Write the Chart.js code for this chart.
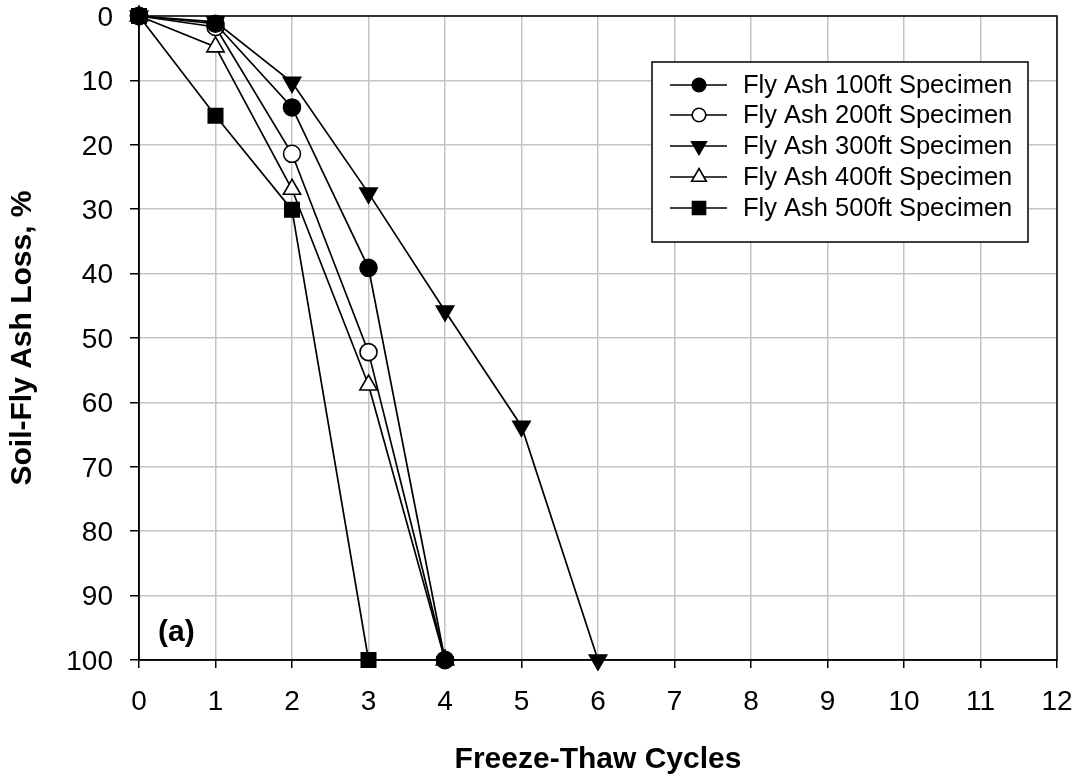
<!DOCTYPE html>
<html><head><meta charset="utf-8">
<script src="https://cdn.jsdelivr.net/npm/chart.js@4.4.0/dist/chart.umd.min.js"></script>
<style>html,body{margin:0;padding:0;background:#fff}#wrap{width:1079px;height:780px}</style>
</head><body><div id="wrap"><canvas id="c" width="1079" height="780"></canvas></div>
<script>
const cycles = [0,1,2,3,4,5,6];
const s100 = [0,1.2,14.2,39.1,100];
const s200 = [0,1.7,21.4,52.2,100];
const s300 = [0,0.9,10.3,27.5,45.8,63.7,100];
const s400 = [0,4.8,26.9,57.3,100];
const s500 = [0,15.5,30.1,100];
const seriesNames = ['Fly Ash 100ft Specimen','Fly Ash 200ft Specimen','Fly Ash 300ft Specimen','Fly Ash 400ft Specimen','Fly Ash 500ft Specimen'];
const xTicks = [0,1,2,3,4,5,6,7,8,9,10,11,12];
const yTicks = [0,10,20,30,40,50,60,70,80,90,100];

const FONT = "'Liberation Sans', Arial, sans-serif";
function mk(vals){ return vals.map((v,i)=>({x:cycles[i], y:v})); }
const styles = [
  {pointStyle:'circle', fill:'#000', r:8.5, lr:6.8},
  {pointStyle:'circle', fill:'#fff', r:8.5, lr:6.8},
  {pointStyle:'triangle', fill:'#000', r:10, lr:8.5, rot:180},
  {pointStyle:'triangle', fill:'#fff', r:10, lr:8.5, rot:0},
  {pointStyle:'rect', fill:'#000', r:10.2, lr:9.2},
];
const allData = [s100,s200,s300,s400,s500];
const datasets = allData.map((d,i)=>({
  label: seriesNames[i],
  data: mk(d),
  borderColor:'#000', borderWidth:1.7,
  pointStyle: styles[i].pointStyle,
  pointRadius: styles[i].r, pointHoverRadius: styles[i].r,
  pointRotation: styles[i].rot||0,
  pointBackgroundColor: styles[i].fill,
  pointBorderColor:'#000', pointBorderWidth:1.6,
  fill:false, tension:0, clip:false
}));

const frame = {
  id:'frame',
  beforeDatasetsDraw(chart){
    const {ctx, chartArea:a} = chart;
    ctx.save();
    ctx.strokeStyle='#000'; ctx.lineWidth=1.5;
    ctx.strokeRect(a.left, a.top, a.right-a.left, a.bottom-a.top);
    ctx.restore();
  },
  afterDatasetsDraw(chart){
    const {ctx} = chart;
    ctx.save();
    const bx=652, by=62, bw=376, bh=180;
    ctx.fillStyle='#fff'; ctx.fillRect(bx,by,bw,bh);
    ctx.strokeStyle='#000'; ctx.lineWidth=1.5; ctx.strokeRect(bx,by,bw,bh);
    const ys=[85,115,146,177,208];
    chart.data.datasets.forEach((ds,i)=>{
      const y=ys[i];
      ctx.strokeStyle='#000'; ctx.lineWidth=1.6;
      ctx.beginPath(); ctx.moveTo(670,y); ctx.lineTo(727,y); ctx.stroke();
      ctx.fillStyle=ds.pointBackgroundColor; ctx.strokeStyle='#000'; ctx.lineWidth=1.6;
      Chart.helpers.drawPoint(ctx,{pointStyle:ds.pointStyle, rotation:ds.pointRotation, radius:styles[i].lr, borderWidth:1.6}, 699, y);
      ctx.fillStyle='#000'; ctx.font='25.5px '+FONT; ctx.textBaseline='middle'; ctx.textAlign='left';
      ctx.fillText(ds.label, 743, y+1);
    });
    ctx.font='bold 30px '+FONT; ctx.fillStyle='#000'; ctx.textBaseline='middle';
    ctx.fillText('(a)',158,633);
    ctx.restore();
  }
};

new Chart(document.getElementById('c'),{
  type:'line',
  data:{datasets},
  options:{
    responsive:false, animation:false, maintainAspectRatio:false,
    layout:{padding:{left:0,top:16,right:22,bottom:0}},
    plugins:{legend:{display:false}, tooltip:{enabled:false}},
    scales:{
      x:{type:'linear', min:0, max:12,
        afterFit(s){ s.height=120; s.paddingLeft=0; s.paddingRight=0; },
        afterBuildTicks(s){ s.ticks = xTicks.map(v=>({value:v})); },
        grid:{color:'#c4c4c4', lineWidth:1.5, drawTicks:true, tickLength:8, tickColor:'#000'},
        border:{color:'#000', width:1.5},
        ticks:{color:'#000', font:{family:FONT, size:28}, padding:17, maxRotation:0},
        title:{display:true, text:'Freeze-Thaw Cycles', color:'#000', font:{family:FONT, size:30, weight:'bold'}, padding:{top:0,bottom:2}}
      },
      y:{type:'linear', reverse:true, min:0, max:100,
        afterFit(s){ s.width=139; s.paddingTop=0; s.paddingBottom=0; },
        afterBuildTicks(s){ s.ticks = yTicks.map(v=>({value:v})); },
        grid:{color:'#c4c4c4', lineWidth:1.5, drawTicks:true, tickLength:9, tickColor:'#000'},
        border:{color:'#000', width:1.5},
        ticks:{color:'#000', font:{family:FONT, size:28}, padding:17, labelOffset:2},
        title:{display:true, text:'Soil-Fly Ash Loss, %', color:'#000', font:{family:FONT, size:30, weight:'bold'}, padding:{top:5,bottom:0}}
      }
    }
  },
  plugins:[frame]
});
</script></body></html>
